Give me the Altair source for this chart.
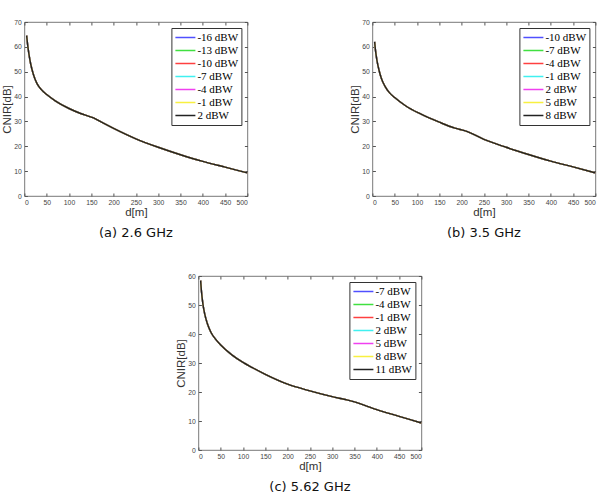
import altair as alt
import pandas as pd

# ---- data ----
x_ticks = [0, 50, 100, 150, 200, 250, 300, 350, 400, 450, 500]

powers_a = ["-16 dBW", "-13 dBW", "-10 dBW", "-7 dBW", "-4 dBW", "-1 dBW", "2 dBW"]
d_a = [5, 7, 10, 14, 20, 28, 38, 50, 70, 100, 126, 155, 175, 200, 250, 300, 350, 400, 450, 500]
cnir_a = [64.5, 61.2, 57.3, 53.2, 49.0, 45.3, 42.8, 40.8, 38.2, 35.2, 33.2, 31.4, 29.5, 27.2,
          23.0, 19.6, 16.6, 13.9, 11.6, 9.3]

powers_b = ["-10 dBW", "-7 dBW", "-4 dBW", "-1 dBW", "2 dBW", "5 dBW", "8 dBW"]
d_b = [5, 7, 10, 15, 20, 28, 38, 50, 75, 108, 150, 185, 210, 250, 300, 350, 400, 450, 500]
cnir_b = [62.0, 58.5, 54.8, 50.5, 47.4, 44.2, 41.6, 39.6, 36.2, 33.0, 29.7, 27.3, 26.1,
          22.8, 19.6, 16.7, 14.0, 11.7, 9.3]

powers_c = ["-7 dBW", "-4 dBW", "-1 dBW", "2 dBW", "5 dBW", "8 dBW", "11 dBW"]
d_c = [5, 7, 10, 14, 20, 28, 38, 50, 75, 100, 121, 150, 200, 250, 300, 335, 350, 400, 450, 500]
cnir_c = [58.4, 54.5, 50.5, 47.0, 43.6, 40.6, 38.3, 36.2, 32.8, 30.2, 28.4, 26.1, 22.7,
          20.4, 18.4, 17.2, 16.6, 13.9, 11.6, 9.3]

line_colors = ["#5050ff", "#40e040", "#ff4040", "#40f0f0", "#f040f0", "#f8f040", "#222222"]

TICK_COLOR = "#555555"


def panel(d, cnir, powers, ymax, caption):
    rows = []
    for p in powers:
        for di, ci in zip(d, cnir):
            rows.append({"d": di, "cnir": ci, "power": p})
    df = pd.DataFrame(rows)
    y_ticks = list(range(0, ymax + 1, 10))
    xs = alt.Scale(domain=[0, 500], nice=False)
    ys = alt.Scale(domain=[0, ymax], nice=False)
    base = alt.Chart(df)
    lines = base.mark_line(strokeWidth=1.4, interpolate="monotone").encode(
        x=alt.X("d:Q", scale=xs,
                axis=alt.Axis(values=x_ticks, title="d[m]", orient="bottom")),
        y=alt.Y("cnir:Q", scale=ys,
                axis=alt.Axis(values=y_ticks, title="CNIR[dB]", orient="left")),
        color=alt.Color("power:N", sort=powers,
                        scale=alt.Scale(domain=powers, range=line_colors),
                        legend=alt.Legend(title=None)),
    )
    frame = base.mark_line(opacity=0).encode(
        x=alt.X("d:Q", scale=xs,
                axis=alt.Axis(values=x_ticks, title=None, labels=False, orient="top")),
        y=alt.Y("cnir:Q", scale=ys,
                axis=alt.Axis(values=y_ticks, title=None, labels=False, orient="right")),
    )
    return (
        alt.layer(lines, frame)
        .resolve_axis(x="independent", y="independent")
        .properties(
            width=223,
            height=174,
            title=alt.TitleParams(caption, orient="bottom", font="DejaVu Sans",
                                  fontSize=13, fontWeight="normal", color="#111111",
                                  offset=9),
        )
    )


pa = panel(d_a, cnir_a, powers_a, 70, "(a) 2.6 GHz")
pb = panel(d_b, cnir_b, powers_b, 70, "(b) 3.5 GHz")
pc = panel(d_c, cnir_c, powers_c, 60, "(c) 5.62 GHz")

top = alt.hconcat(pa, pb, spacing=98).resolve_scale(color="independent").resolve_legend(color="independent")
chart = (
    alt.vconcat(top, pc, spacing=31, center=True)
    .resolve_scale(color="independent")
    .resolve_legend(color="independent")
    .properties(padding={"left": 1, "top": 18, "right": 2, "bottom": 0})
    .configure_view(stroke=TICK_COLOR, strokeWidth=0.8)
    .configure_axis(
        domain=False,
        grid=False,
        tickColor=TICK_COLOR,
        tickSize=3,
        offset=-3,
        labelColor="#444444",
        labelFont="Liberation Sans",
        labelFontSize=6.8,
        labelPadding=3,
        titleFont="Liberation Sans",
        titleFontSize=11.5,
        titleFontWeight="normal",
        titleColor="#333333",
        titlePadding=1,
    )
    .configure_legend(
        orient="top-right",
        offset=6,
        symbolType="stroke",
        symbolSize=400,
        symbolStrokeWidth=1.5,
        labelFont="Liberation Serif",
        labelFontSize=11,
        labelColor="#000000",
        labelOffset=1,
        strokeColor="#333333",
        fillColor="white",
        padding=3,
        rowPadding=0,
        clipHeight=13,
    )
)

chart.save("out.html", embed_options={"renderer": "svg", "actions": False})
